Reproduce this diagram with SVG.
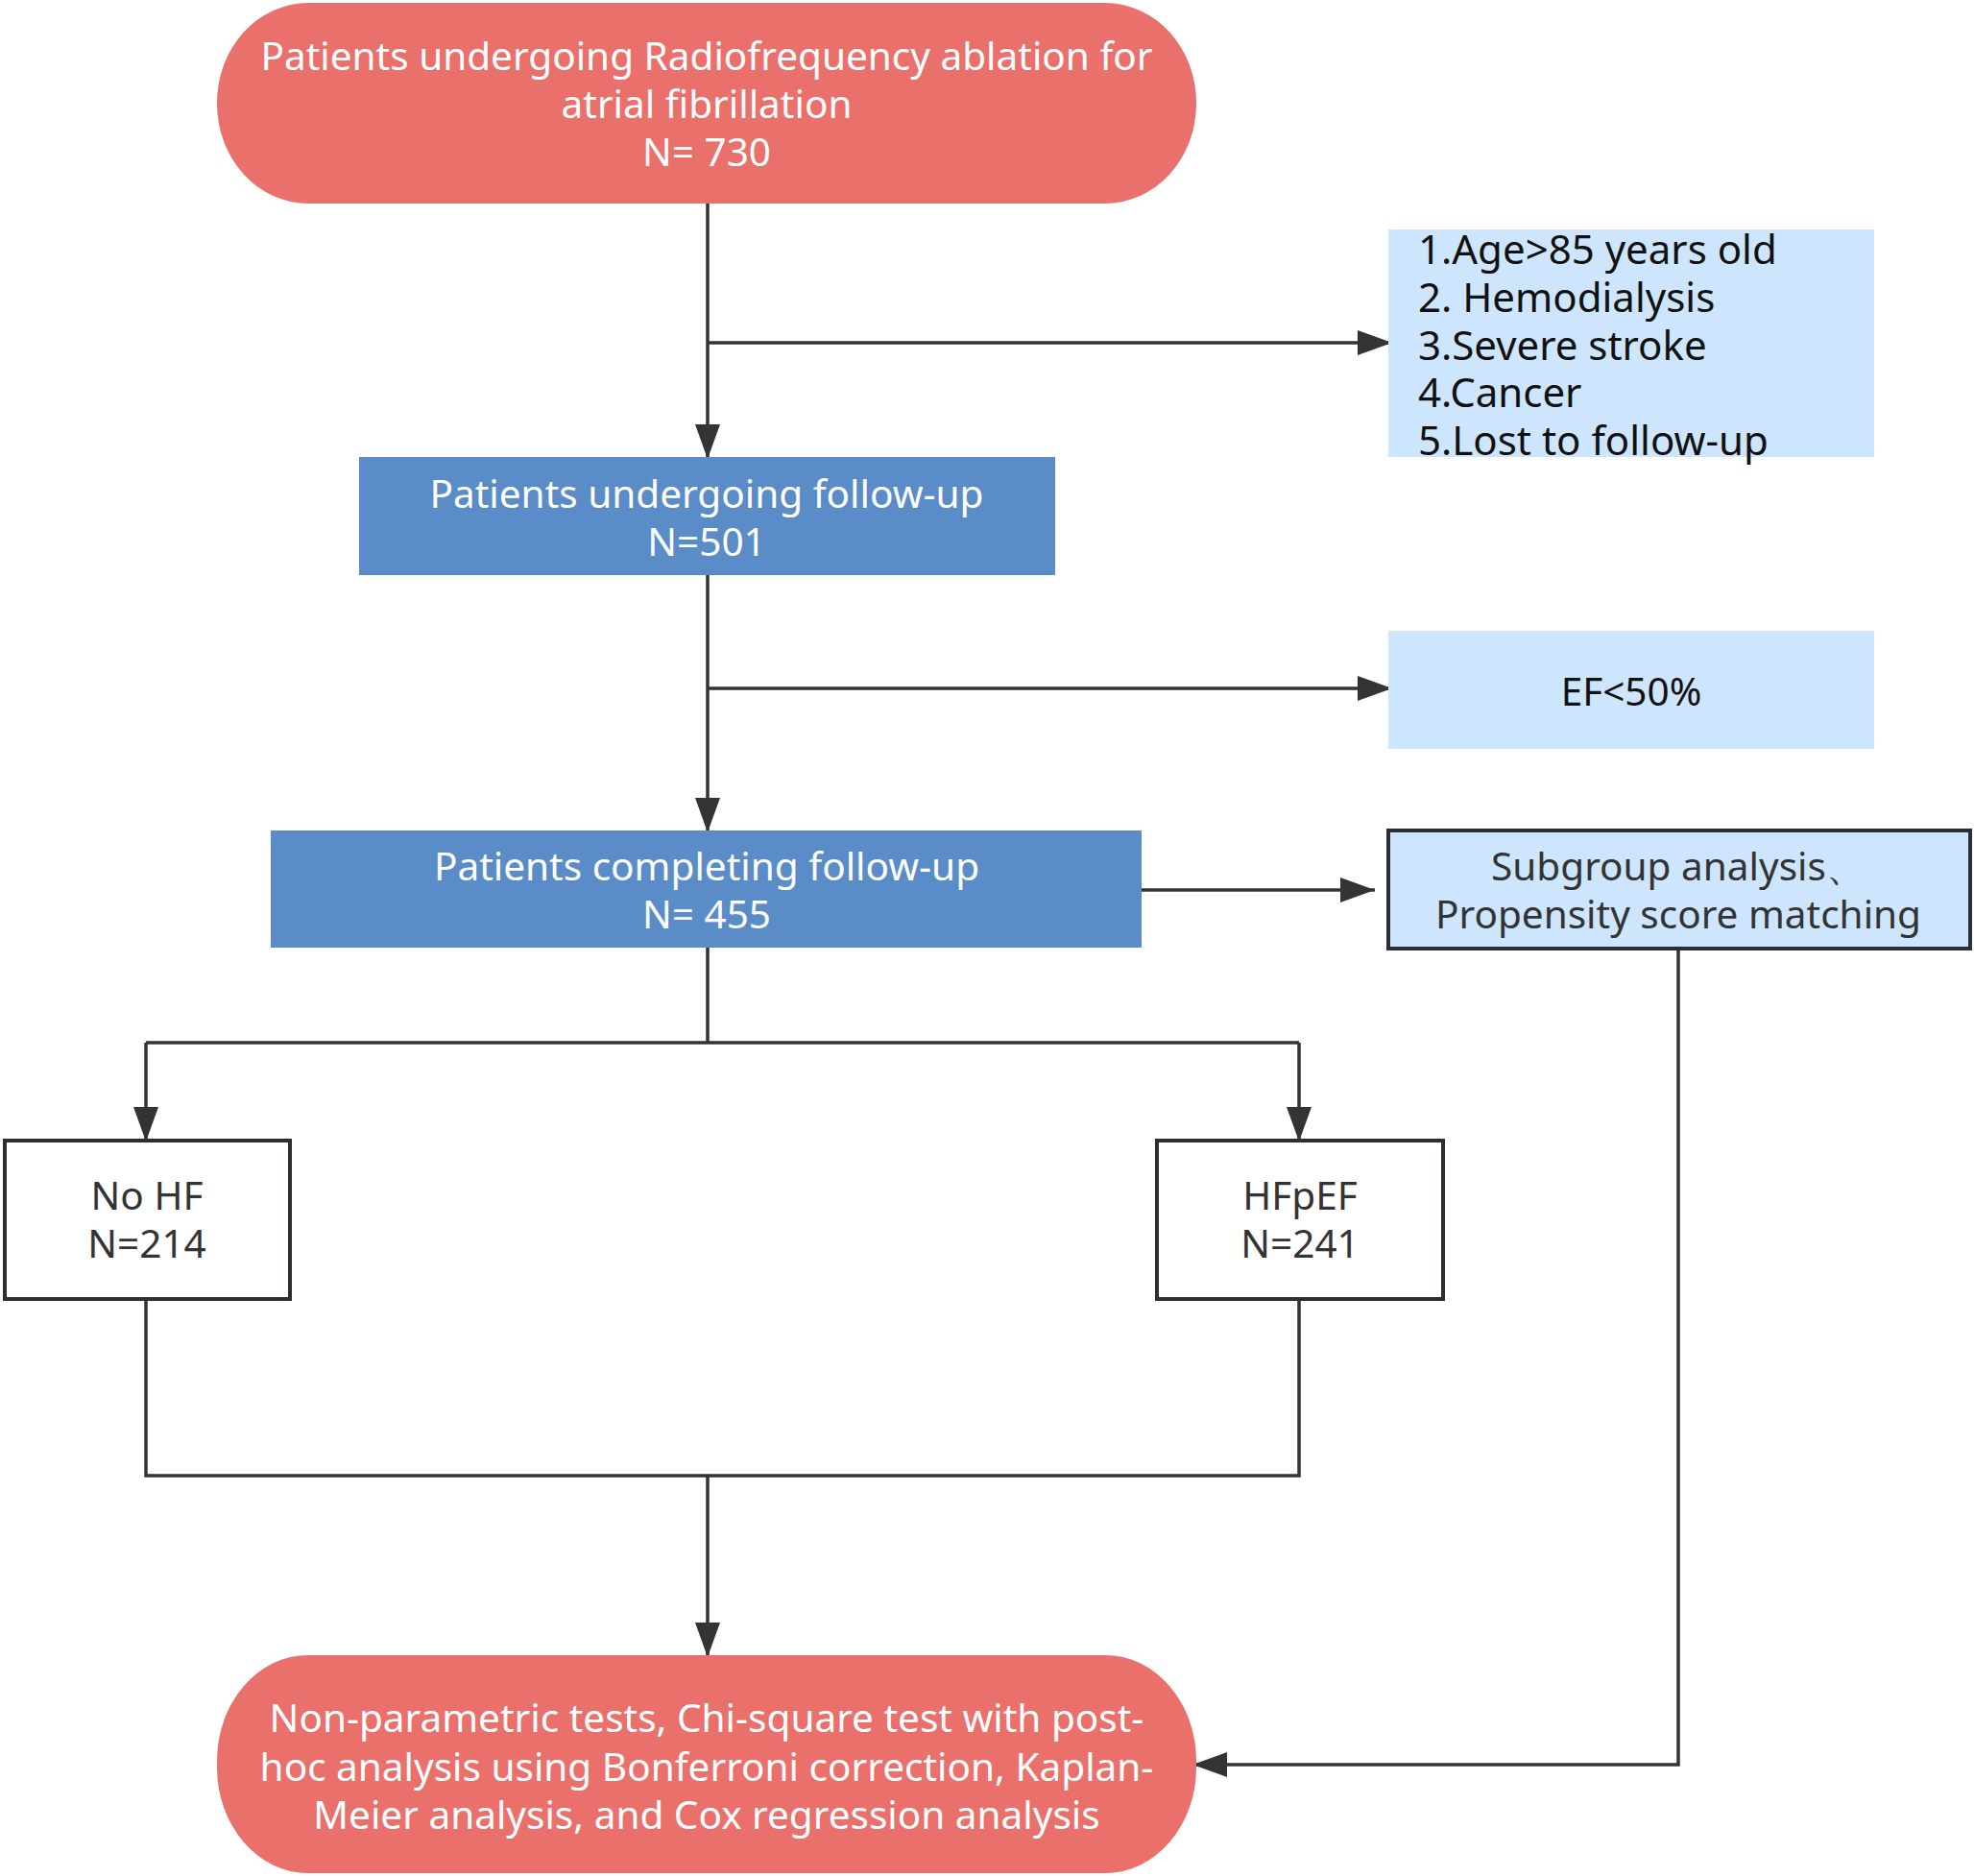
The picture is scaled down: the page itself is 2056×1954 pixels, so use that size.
<svg xmlns="http://www.w3.org/2000/svg" width="2056" height="1954" viewBox="0 0 2056 1954">
<defs>
<style>
.t{font-family:"Noto Sans","Open Sans","DejaVu Sans",sans-serif;font-size:40.5px;text-anchor:middle;}
.w{fill:#ffffff;}
.d{fill:#333333;}
.k{fill:#111111;text-anchor:start;font-size:42px;}
.pill{fill:#ea706c;}
.blue{fill:#5a8cc8;}
.light{fill:#cde6fe;}
.frame{fill:#ffffff;stroke:#2b2f33;stroke-width:4;}
.lframe{fill:#cde6fe;stroke:#2b2f33;stroke-width:4;}
.ln{fill:none;stroke:#333333;stroke-width:3.5;}
</style>
<marker id="ah" viewBox="0 0 10 10" refX="10" refY="5" markerWidth="36" markerHeight="26" markerUnits="userSpaceOnUse" orient="auto" preserveAspectRatio="none">
<path d="M0,0 L10,5 L0,10 Z" fill="#333333"/>
</marker>
</defs>
<rect width="2056" height="1954" fill="#ffffff"/>
<g id="connectors">
<path class="ln" d="M737,212 V478" marker-end="url(#ah)"/>
<path class="ln" d="M737,357 H1450" marker-end="url(#ah)"/>
<path class="ln" d="M737,599 V867" marker-end="url(#ah)"/>
<path class="ln" d="M737,717 H1450" marker-end="url(#ah)"/>
<path class="ln" d="M1189,927 H1432" marker-end="url(#ah)"/>
<path class="ln" d="M737,987 V1086"/>
<path class="ln" d="M152,1086 H1353"/>
<path class="ln" d="M152,1086 V1189" marker-end="url(#ah)"/>
<path class="ln" d="M1353,1086 V1189" marker-end="url(#ah)"/>
<path class="ln" d="M152,1353 V1537 H1353 V1353"/>
<path class="ln" d="M737,1537 V1726" marker-end="url(#ah)"/>
<path class="ln" d="M1748,989 V1838 H1242" marker-end="url(#ah)"/>
</g>
<g id="start">
<rect class="pill" x="226" y="3" width="1020" height="209" rx="95" ry="104"/>
<text class="t w" x="736" y="73">Patients undergoing Radiofrequency ablation for</text>
<text class="t w" x="736" y="123">atrial fibrillation</text>
<text class="t w" x="736" y="173">N= 730</text>
</g>
<g id="exclusion1">
<rect class="light" x="1446" y="239" width="506" height="237"/>
<text class="t k" x="1477" y="275">1.Age&gt;85 years old</text>
<text class="t k" x="1477" y="325">2. Hemodialysis</text>
<text class="t k" x="1477" y="375">3.Severe stroke</text>
<text class="t k" x="1477" y="424">4.Cancer</text>
<text class="t k" x="1477" y="474">5.Lost to follow-up</text>
</g>
<g id="followup">
<rect class="blue" x="374" y="476" width="725" height="123"/>
<text class="t w" x="736" y="529">Patients undergoing follow-up</text>
<text class="t w" x="736" y="579">N=501</text>
</g>
<g id="exclusion2">
<rect class="light" x="1446" y="657" width="506" height="123"/>
<text class="t d" x="1699" y="735" style="fill:#111111">EF&lt;50%</text>
</g>
<g id="completing">
<rect class="blue" x="282" y="865" width="907" height="122"/>
<text class="t w" x="736" y="917">Patients completing follow-up</text>
<text class="t w" x="736" y="967">N= 455</text>
</g>
<g id="subgroup">
<rect class="lframe" x="1446" y="865" width="606" height="123"/>
<text class="t d" x="1748" y="917">Subgroup analysis、</text>
<text class="t d" x="1748" y="967">Propensity score matching</text>
</g>
<g id="nohf">
<rect class="frame" x="5" y="1188" width="297" height="165"/>
<text class="t d" x="153" y="1260">No HF</text>
<text class="t d" x="153" y="1310">N=214</text>
</g>
<g id="hfpef">
<rect class="frame" x="1205" y="1188" width="298" height="165"/>
<text class="t d" x="1354" y="1260">HFpEF</text>
<text class="t d" x="1354" y="1310">N=241</text>
</g>
<g id="analysis">
<rect class="pill" x="226" y="1724" width="1020" height="227" rx="95" ry="110"/>
<text class="t w" x="736" y="1804">Non-parametric tests, Chi-square test with post-</text>
<text class="t w" x="736" y="1855">hoc analysis using Bonferroni correction, Kaplan-</text>
<text class="t w" x="736" y="1905">Meier analysis, and Cox regression analysis</text>
</g>
</svg>
